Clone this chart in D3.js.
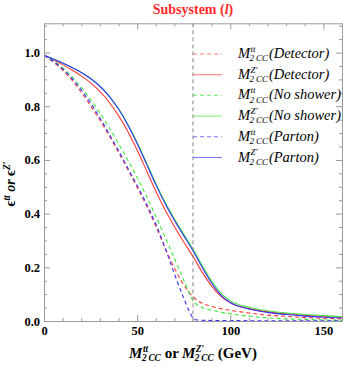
<!DOCTYPE html>
<html>
<head>
<meta charset="utf-8">
<script src="https://cdn.jsdelivr.net/npm/d3@7"></script>
<style>
  body { margin: 0; background: #fff; }
  svg { display: block; }
  svg text { font-family: "Liberation Serif", "Times New Roman", serif; }
</style>
</head>
<body>
<svg id="chart" width="343" height="366"></svg>
<script>
// masses (GeV) shared by most curves
const mass = [0, 5, 10, 15, 20, 25, 30, 35, 40, 45, 50, 55, 60, 65, 70, 75, 80, 85, 90, 95, 100, 110, 120, 130, 140, 150, 160]
const massPartonTT = [0, 5, 10, 15, 20, 25, 30, 35, 40, 45, 50, 55, 60, 65, 70, 75, 78, 80, 82, 90, 100, 120, 140, 160]

const ttDetector = [0.99, 0.965, 0.935, 0.897, 0.852, 0.802, 0.748, 0.69, 0.628, 0.564, 0.498, 0.43, 0.353, 0.272, 0.197, 0.135, 0.09, 0.066, 0.054, 0.046, 0.04, 0.03, 0.022, 0.017, 0.013, 0.01, 0.008]
const zpDetector = [0.99, 0.973, 0.955, 0.935, 0.913, 0.887, 0.855, 0.815, 0.765, 0.706, 0.637, 0.561, 0.484, 0.414, 0.352, 0.295, 0.24, 0.181, 0.13, 0.092, 0.068, 0.046, 0.034, 0.027, 0.021, 0.017, 0.014]
const ttNoShower = [0.99, 0.969, 0.944, 0.91, 0.87, 0.825, 0.775, 0.72, 0.661, 0.6, 0.535, 0.465, 0.39, 0.313, 0.234, 0.153, 0.076, 0.05, 0.04, 0.033, 0.027, 0.018, 0.012, 0.008, 0.006, 0.004, 0.003]
const zpNoShower = [0.99, 0.976, 0.961, 0.9445, 0.926, 0.9035, 0.875, 0.838, 0.791, 0.733, 0.665, 0.59, 0.513, 0.443, 0.381, 0.324, 0.268, 0.206, 0.149, 0.104, 0.076, 0.051, 0.038, 0.03, 0.024, 0.02, 0.016]
const ttParton = [0.99, 0.967, 0.94, 0.904, 0.861, 0.812, 0.757, 0.697, 0.635, 0.57, 0.505, 0.437, 0.362, 0.273, 0.176, 0.086, 0.036, 0.012, 0.004, 0.002, 0.0015, 0.001, 0.001, 0.001]
const zpParton = [0.99, 0.976, 0.961, 0.9445, 0.926, 0.9035, 0.8745, 0.837, 0.7895, 0.7305, 0.6615, 0.5855, 0.508, 0.438, 0.3755, 0.318, 0.262, 0.199, 0.1415, 0.0965, 0.069, 0.045, 0.032, 0.024, 0.018, 0.014, 0.011]

const xTicks = [0, 50, 100, 150]
const yTicks = [0, 0.2, 0.4, 0.6, 0.8, 1.0]
const cutMass = 80

const series = [
  { sup: 'tt', tag: '(Detector)', xs: mass, ys: ttDetector, color: '#ff3838', dash: '4,3' },
  { sup: 'Z\u2032', tag: '(Detector)', xs: mass, ys: zpDetector, color: '#ff3838', dash: null },
  { sup: 'tt', tag: '(No shower)', xs: mass, ys: ttNoShower, color: '#3ee83e', dash: '4,3' },
  { sup: 'Z\u2032', tag: '(No shower)', xs: mass, ys: zpNoShower, color: '#3ee83e', dash: null },
  { sup: 'tt', tag: '(Parton)', xs: massPartonTT, ys: ttParton, color: '#3434ff', dash: '4,3' },
  { sup: 'Z\u2032', tag: '(Parton)', xs: mass, ys: zpParton, color: '#3434ff', dash: null }
]

const svg = d3.select('#chart')
const plotLeft = 44
const plotRight = 342
const plotTop = 23.3
const plotBottom = 321

const x = d3.scaleLinear().domain([0, 160]).range([plotLeft, plotRight])
const y = d3.scaleLinear().domain([0, 1.109]).range([plotBottom, plotTop])

const frameColor = '#9a9a9a'

// curves first, clipped to the frame
svg.append('clipPath').attr('id', 'clip')
  .append('rect').attr('x', plotLeft).attr('y', plotTop)
  .attr('width', plotRight - plotLeft).attr('height', plotBottom - plotTop)

const line = d3.line()
  .x((d) => x(d[0]))
  .y((d) => y(d[1]))
  .curve(d3.curveMonotoneX)

const plot = svg.append('g').attr('clip-path', 'url(#clip)')
series.forEach((s) => {
  plot.append('path')
    .datum(s.xs.map((m, i) => [m, s.ys[i]]))
    .attr('d', line)
    .attr('fill', 'none')
    .attr('stroke', s.color)
    .attr('stroke-width', 1.1)
    .attr('stroke-dasharray', s.dash)
})

// vertical cut line
svg.append('line')
  .attr('x1', x(cutMass)).attr('x2', x(cutMass))
  .attr('y1', plotTop).attr('y2', plotBottom)
  .attr('stroke', '#777').attr('stroke-width', 0.9)
  .attr('stroke-dasharray', '4,3')

// frame with inward ticks (mathematica style)
const minorX = d3.range(0, 161, 10)
const minorY = d3.range(0, 1.101, 0.05)
const axisStyle = (g) => {
  g.select('.domain').attr('stroke', frameColor)
  g.selectAll('.tick line').attr('stroke', frameColor)
  g.selectAll('.tick text')
    .attr('font-size', 12.5).attr('font-weight', 'bold')
    .attr('fill', '#000')
}

const isIn = (list) => (d) => list.some((m) => Math.abs(m - d) < 1e-6)
const majX = isIn(xTicks)
const majY = isIn(yTicks)

const mkAxis = (axis, scale, minor, isMajor, fmt, withLabels) => {
  return axis(scale).tickValues(minor)
    .tickSizeOuter(0)
    .tickSizeInner(-3)
    .tickFormat((d) => (withLabels && isMajor(d) ? fmt(d) : ''))
}

const yFmt = d3.format('.1f')
const xFmt = d3.format('d')

const gBottom = svg.append('g').attr('transform', `translate(0,${plotBottom})`)
  .call(mkAxis(d3.axisBottom, x, minorX, majX, xFmt, true)).call(axisStyle)
const gTop = svg.append('g').attr('transform', `translate(0,${plotTop})`)
  .call(mkAxis(d3.axisTop, x, minorX, majX, xFmt, false)).call(axisStyle)
const gLeft = svg.append('g').attr('transform', `translate(${plotLeft},0)`)
  .call(mkAxis(d3.axisLeft, y, minorY, majY, yFmt, true)).call(axisStyle)
const gRight = svg.append('g').attr('transform', `translate(${plotRight},0)`)
  .call(mkAxis(d3.axisRight, y, minorY, majY, yFmt, false)).call(axisStyle)

// major ticks are longer
const longer = (g, isMajor, attr, val) => {
  g.selectAll('.tick').each(function(d) {
    if (isMajor(d)) d3.select(this).select('line').attr(attr, val)
  })
}
longer(gBottom, majX, 'y2', -6)
longer(gTop, majX, 'y2', 6)
longer(gLeft, majY, 'x2', 6)
longer(gRight, majY, 'x2', -6)

gBottom.selectAll('.tick text').attr('y', 5).attr('dy', '0.71em')
gLeft.selectAll('.tick text').attr('x', -4)

// title
const title = svg.append('text')
  .attr('x', (plotLeft + plotRight) / 2).attr('y', 14)
  .attr('text-anchor', 'middle')
  .attr('font-size', 14).attr('font-weight', 'bold').attr('fill', '#ff2a2a')
title.append('tspan').text('Subsystem (')
title.append('tspan').attr('font-style', 'italic').text('l')
title.append('tspan').text(')')

// M^{sup}_{2CC} builder, returns width
const massLabel = (g, x0, y0, sup, size, bold) => {
  const fw = bold ? 'bold' : 'normal'
  const m = g.append('text').attr('x', x0).attr('y', y0)
    .attr('font-size', size).attr('font-style', 'italic').attr('font-weight', fw).text('M')
  const mw = m.node().getComputedTextLength()
  const small = size * 0.62
  const s1 = g.append('text').attr('x', x0 + mw + 0.5).attr('y', y0 - size * 0.42)
    .attr('font-size', small).attr('font-style', 'italic').attr('font-weight', fw).text(sup)
  const s2 = g.append('text').attr('x', x0 + mw - 0.5).attr('y', y0 + size * 0.22)
    .attr('font-size', small).attr('font-style', 'italic').attr('font-weight', fw).text('2\u2009CC')
  return mw + Math.max(s1.node().getComputedTextLength(), s2.node().getComputedTextLength()) + 0.5
}

// legend
const legend = svg.append('g')
const legY0 = 54
const legStep = 20.7
series.forEach((s, i) => {
  const ly = legY0 + i * legStep
  legend.append('line')
    .attr('x1', x(cutMass)).attr('x2', x(cutMass) + 29)
    .attr('y1', ly).attr('y2', ly)
    .attr('stroke', s.color).attr('stroke-width', 1.1)
    .attr('stroke-opacity', 0.65)
    .attr('stroke-dasharray', s.dash)
  const w = massLabel(legend, 238, ly + 4, s.sup, 14.5, false)
  legend.append('text').attr('x', 238 + w).attr('y', ly + 4)
    .attr('font-size', 14.5).attr('font-style', 'italic').text(s.tag)
})

// x axis title
const xt = svg.append('g')
let cx = 0
cx += massLabel(xt, cx, 0, 'tt', 15, true)
const or1 = xt.append('text').attr('x', cx + 3).attr('y', 0)
  .attr('font-size', 15).attr('font-weight', 'bold').text('or')
cx += 3 + or1.node().getComputedTextLength() + 3
cx += massLabel(xt, cx, 0, 'Z\u2032', 15, true)
const gev = xt.append('text').attr('x', cx + 3).attr('y', 0)
  .attr('font-size', 15).attr('font-weight', 'bold').text('(GeV)')
cx += 3 + gev.node().getComputedTextLength()
xt.attr('transform', `translate(${(plotLeft + plotRight) / 2 - cx / 2},358)`)

// y axis title
const yt = svg.append('text')
  .attr('transform', 'translate(15,184) rotate(-90)')
  .attr('text-anchor', 'middle')
  .attr('font-size', 14).attr('font-weight', 'bold')
yt.append('tspan').text('\u03f5')
yt.append('tspan').attr('font-size', 9.5).attr('font-style', 'italic').attr('dy', -5).text('tt')
yt.append('tspan').attr('font-style', 'italic').attr('dy', 5).text(' or ')
yt.append('tspan').text('\u03f5')
yt.append('tspan').attr('font-size', 9.5).attr('font-style', 'italic').attr('dy', -5).text('Z\u2032')
</script>
</body>
</html>
